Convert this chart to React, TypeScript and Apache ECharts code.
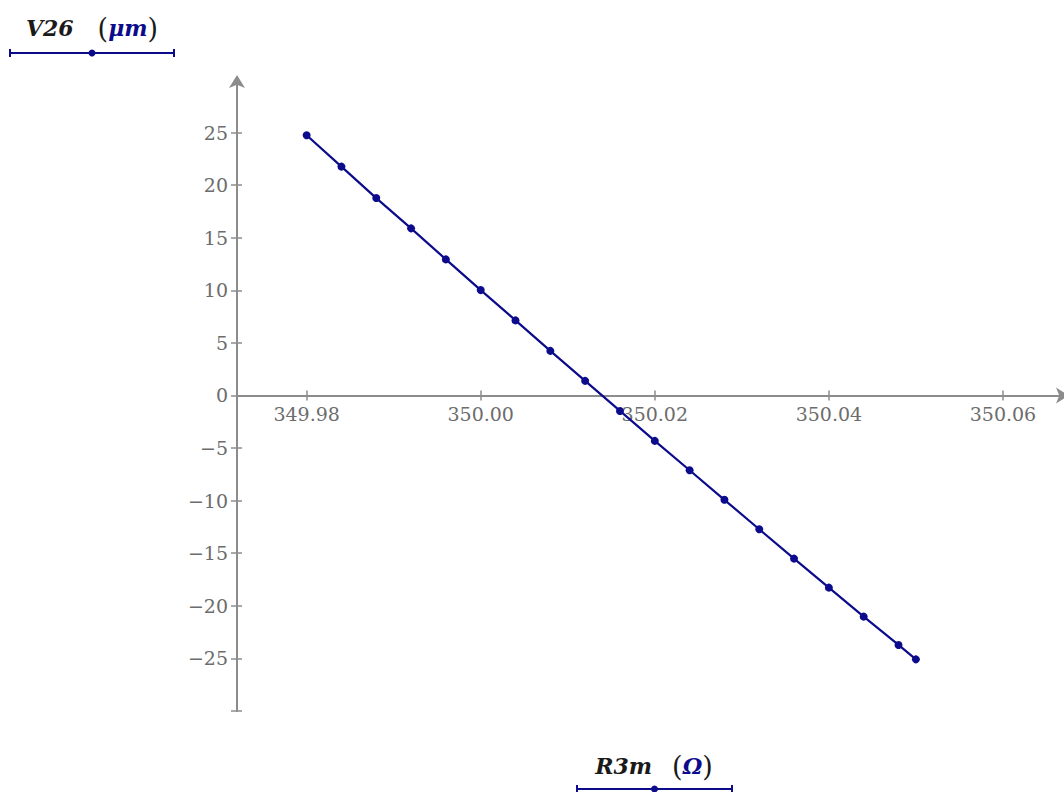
import React, { useEffect, useRef } from "react";
import * as echarts from "echarts";

// R3m (Ω) sweep and resulting V26 (µm)
const r3m = [
  349.98, 349.984, 349.988, 349.992, 349.996, 350.0, 350.004, 350.008, 350.012, 350.016,
  350.02, 350.024, 350.028, 350.032, 350.036, 350.04, 350.044, 350.048, 350.05,
];
const v26 = [
  24.74, 21.76, 18.77, 15.89, 12.94, 10.02, 7.14, 4.24, 1.39, -1.47,
  -4.32, -7.11, -9.92, -12.72, -15.51, -18.27, -21.03, -23.72, -25.09,
];

const xTickValues = [349.98, 350.0, 350.02, 350.04, 350.06];
const yTickValues = [-30, -25, -20, -15, -10, -5, 0, 5, 10, 15, 20, 25];
const yLabelValues = [-25, -20, -15, -10, -5, 0, 5, 10, 15, 20, 25];

const X_MIN = 349.972;
const X_MAX = 350.0669;
const Y_MIN = -30;
const Y_MAX = 29.9;

const GRID_TOP = 81;
const GRID_HEIGHT = 630;
// distance from the grid's bottom edge up to the y = 0 line
const ZERO_OFFSET = -(GRID_HEIGHT * (0 - Y_MIN)) / (Y_MAX - Y_MIN);

const AXIS_GRAY = "#8c8c8c";
const LABEL_GRAY = "#6c6c6c";
const NAVY = "#0b0b8c";
const SERIF = "'DejaVu Serif', 'Liberation Serif', serif";

const fmtY = (v: number) => (v < 0 ? "\u2212" + Math.abs(v) : String(v));

export default function App() {
  const ref = useRef<HTMLDivElement>(null);

  useEffect(() => {
    if (!ref.current) return;
    const chart = echarts.init(ref.current, undefined, { renderer: "svg" });

    const axisLineStyle = { color: AXIS_GRAY, width: 2 };
    const tickStyle = { color: AXIS_GRAY, width: 1.5 };

    const unitLegend = (
      label: string,
      unit: string,
      gap: number,
      cx: number,
      textY: number,
      lineY: number,
      x0: number,
      x1: number
    ) => [
      {
        type: "text",
        x: cx,
        y: textY,
        style: {
          text: `{n|${label}}{s| }{p|(}{u|${unit}}{p|)}`,
          align: "center",
          verticalAlign: "middle",
          rich: {
            n: { fontFamily: SERIF, fontStyle: "italic", fontWeight: "bold", fontSize: 22, fill: "#1a1a1a" },
            s: { width: gap, fontSize: 22 },
            p: { fontFamily: SERIF, fontSize: 27, fill: "#1a1a1a" },
            u: { fontFamily: SERIF, fontStyle: "italic", fontWeight: "bold", fontSize: 22, fill: NAVY },
          },
        },
      },
      { type: "line", shape: { x1: x0, y1: lineY, x2: x1, y2: lineY }, style: { stroke: NAVY, lineWidth: 2 } },
      { type: "line", shape: { x1: x0, y1: lineY - 4, x2: x0, y2: lineY + 4 }, style: { stroke: NAVY, lineWidth: 2 } },
      { type: "line", shape: { x1: x1, y1: lineY - 4, x2: x1, y2: lineY + 4 }, style: { stroke: NAVY, lineWidth: 2 } },
      { type: "circle", shape: { cx: (x0 + x1) / 2, cy: lineY, r: 3.5 }, style: { fill: NAVY } },
    ];

    chart.setOption({
      animation: false,
      backgroundColor: "#ffffff",
      grid: { left: 237, top: GRID_TOP, width: 826, height: GRID_HEIGHT, containLabel: false },
      xAxis: [
        {
          type: "value",
          min: X_MIN,
          max: X_MAX,
          position: "bottom",
          offset: ZERO_OFFSET,
          axisLine: {
            onZero: false,
            lineStyle: axisLineStyle,
            symbol: ["none", "arrow"],
            symbolSize: [12, 13],
            symbolOffset: [0, 6],
          },
          axisTick: { show: true, length: 5, inside: false, lineStyle: tickStyle, customValues: xTickValues },
          axisLabel: {
            show: true,
            margin: 9,
            customValues: xTickValues,
            formatter: (v: number) => v.toFixed(2),
            color: LABEL_GRAY,
            fontFamily: SERIF,
            fontSize: 19,
          },
          splitLine: { show: false },
        },
        {
          type: "value",
          min: X_MIN,
          max: X_MAX,
          position: "bottom",
          offset: ZERO_OFFSET,
          axisLine: { show: false, onZero: false },
          axisTick: { show: true, length: 5, inside: true, lineStyle: tickStyle, customValues: xTickValues },
          axisLabel: { show: false },
          splitLine: { show: false },
        },
      ],
      yAxis: [
        {
          type: "value",
          min: Y_MIN,
          max: Y_MAX,
          position: "left",
          axisLine: {
            show: true,
            onZero: false,
            lineStyle: axisLineStyle,
            symbol: ["none", "arrow"],
            symbolSize: [12, 13],
            symbolOffset: [0, 6],
          },
          axisTick: { show: true, length: 6, inside: false, lineStyle: tickStyle, customValues: yTickValues },
          axisLabel: {
            show: true,
            margin: 9,
            customValues: yLabelValues,
            formatter: fmtY,
            color: LABEL_GRAY,
            fontFamily: SERIF,
            fontSize: 19,
          },
          splitLine: { show: false },
        },
        {
          type: "value",
          min: Y_MIN,
          max: Y_MAX,
          position: "left",
          axisLine: { show: false, onZero: false },
          axisTick: { show: true, length: 5, inside: true, lineStyle: tickStyle, customValues: yTickValues },
          axisLabel: { show: false },
          splitLine: { show: false },
        },
      ],
      series: [
        {
          type: "line",
          xAxisIndex: 0,
          yAxisIndex: 0,
          data: r3m.map((x, i) => [x, v26[i]]),
          symbol: "circle",
          symbolSize: 8,
          showSymbol: true,
          lineStyle: { color: NAVY, width: 2.2 },
          itemStyle: { color: NAVY },
          z: 5,
        },
      ],
      graphic: [
        ...unitLegend("V26", "\u03bcm", 24, 92, 28, 53, 10, 174),
        ...unitLegend("R3m", "\u03a9", 20, 654, 766, 789, 577, 732),
      ],
    });

    return () => chart.dispose();
  }, []);

  return (
    <div
      ref={ref}
      style={{ position: "fixed", left: 0, top: 0, width: 1064, height: 792, background: "#fff" }}
    />
  );
}
